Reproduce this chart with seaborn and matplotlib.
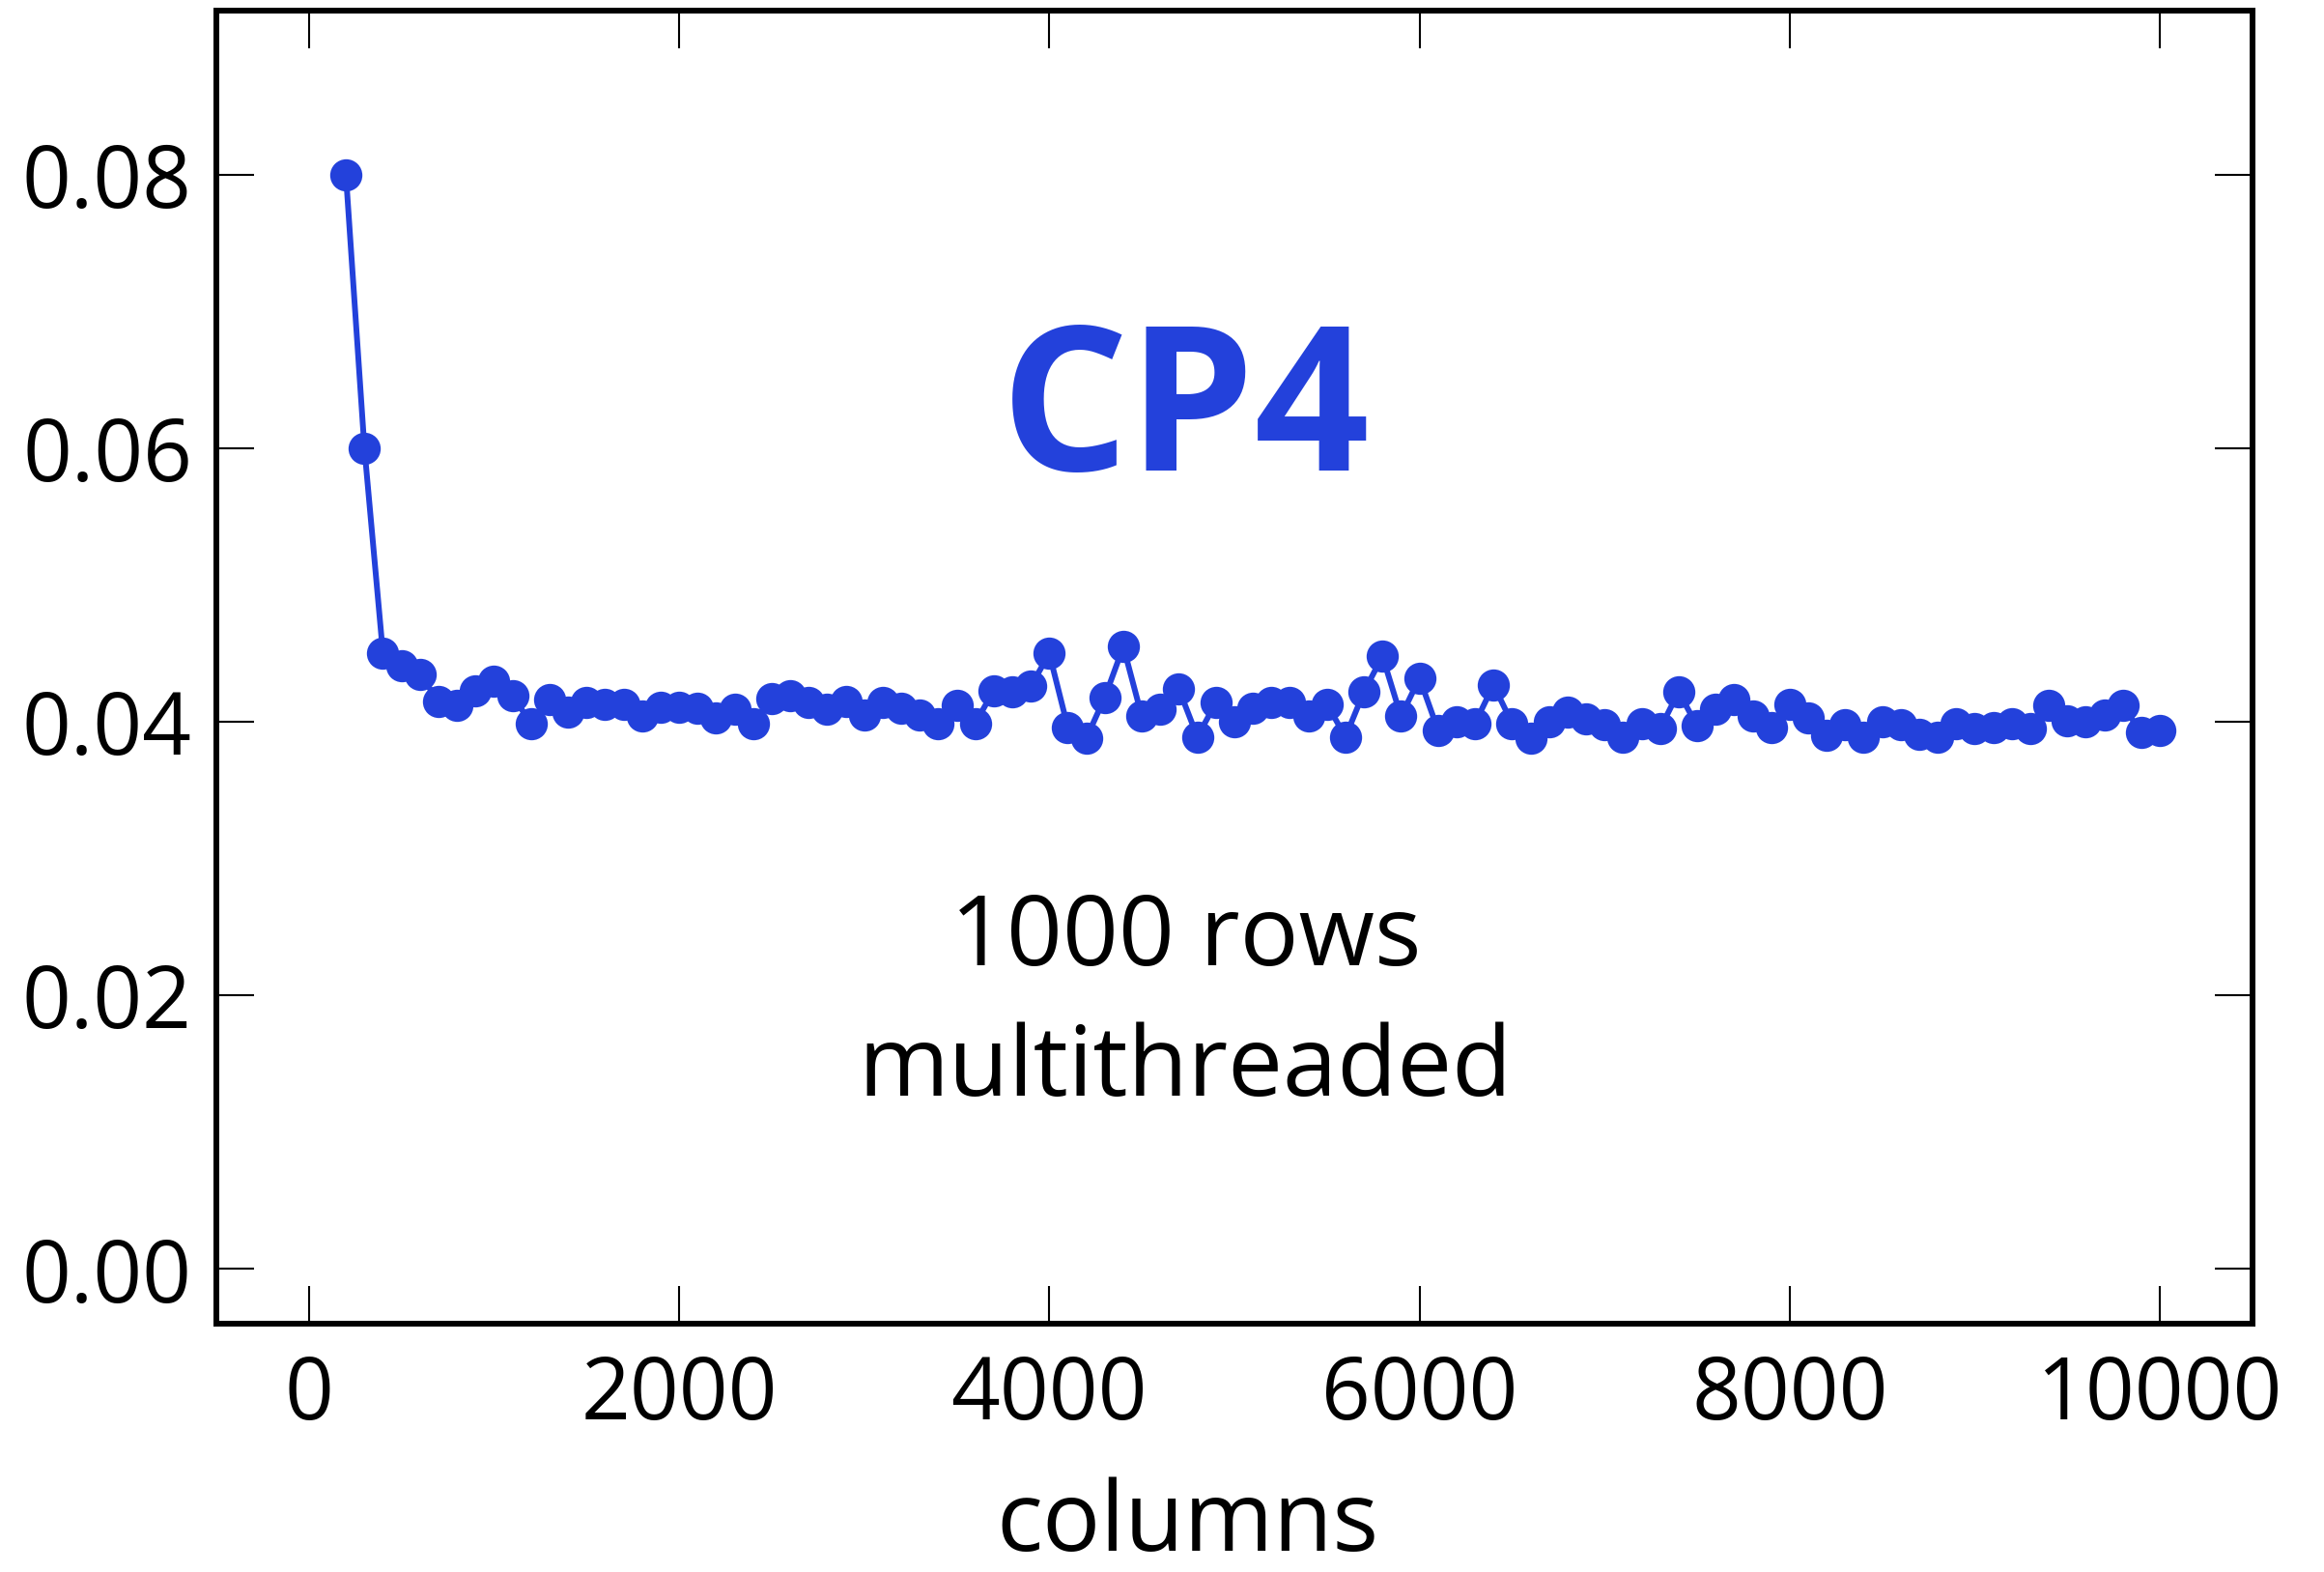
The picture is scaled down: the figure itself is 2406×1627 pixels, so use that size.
import numpy as np
import pandas as pd
import matplotlib
matplotlib.use("Agg")
import matplotlib.pyplot as plt
import seaborn as sns

columns = list(range(200, 10001, 100))
times = [
    0.0800, 0.0600, 0.0450, 0.0441, 0.0435, 0.0415, 0.0412, 0.0423, 0.0430, 0.0419,
    0.0399, 0.0416, 0.0407, 0.0414, 0.0413, 0.0413, 0.0404, 0.0411, 0.0411, 0.0410,
    0.0403, 0.0409, 0.0399, 0.0417, 0.0419, 0.0414, 0.0409, 0.0415, 0.0405, 0.0414,
    0.0410, 0.0405, 0.0399, 0.0412, 0.0399, 0.0423, 0.0422, 0.0426, 0.0450, 0.0396,
    0.0388, 0.0418, 0.0455, 0.0404, 0.0409, 0.0424, 0.0389, 0.0414, 0.0400, 0.0410,
    0.0414, 0.0414, 0.0404, 0.0413, 0.0389, 0.0422, 0.0448, 0.0404, 0.0432, 0.0394,
    0.0400, 0.0399, 0.0427, 0.0399, 0.0388, 0.0400, 0.0407, 0.0402, 0.0398, 0.0389,
    0.0399, 0.0395, 0.0422, 0.0397, 0.0409, 0.0416, 0.0404, 0.0396, 0.0413, 0.0403,
    0.0390, 0.0398, 0.0389, 0.0400, 0.0398, 0.0391, 0.0389, 0.0399, 0.0395, 0.0396,
    0.0399, 0.0395, 0.0412, 0.0401, 0.0400, 0.0405, 0.0412, 0.0392, 0.0394,
]
xticks = [0, 2000, 4000, 6000, 8000, 10000]
yticks = [0.00, 0.02, 0.04, 0.06, 0.08]
title_text = "CP4"
note_lines = ["1000 rows", "multithreaded"]
xlabel_text = "columns"

sns.set_style("white")
plt.rcParams['font.family'] = ['Open Sans', 'DejaVu Sans']

color = "#2341DB"
df = pd.DataFrame({"columns": columns, "time": times})

fig = plt.figure(figsize=(24.06, 16.27), dpi=100)
ax = fig.add_axes([0.0931, 0.158, 0.8761, 0.8352])
sns.lineplot(data=df, x="columns", y="time", ax=ax, color=color, marker="o",
             markersize=24, markeredgewidth=0, linewidth=4.3)

ax.set_xlim(-500, 10500)
ax.set_ylim(-0.004, 0.092)
ax.set_xticks(xticks)
ax.set_yticks(yticks)
ax.set_yticklabels([f"{v:.2f}" for v in yticks])
ax.set_xticklabels([str(v) for v in xticks])
ax.tick_params(axis="both", which="both", direction="in", length=28, width=1.5,
               labelsize=64, pad=22, top=True, right=True, bottom=True, left=True,
               colors="black")
ax.tick_params(axis="y", pad=18)
for s in ax.spines.values():
    s.set_linewidth(4.3)
    s.set_color("black")
    s.set_visible(True)

ax.set_xlabel(xlabel_text, fontsize=72, color="black")
ax.xaxis.set_label_coords(0.477, -0.117)
ax.set_ylabel("")

ax.text(4736, 0.0622, title_text, color=color, fontsize=150, fontweight="bold",
        ha="center", va="center")
ax.text(4736, 0.0222, note_lines[0], color="black", fontsize=73, ha="center",
        va="baseline")
ax.text(4736, 0.0127, note_lines[1], color="black", fontsize=73, ha="center",
        va="baseline")

fig.savefig("out.png", dpi=100)
